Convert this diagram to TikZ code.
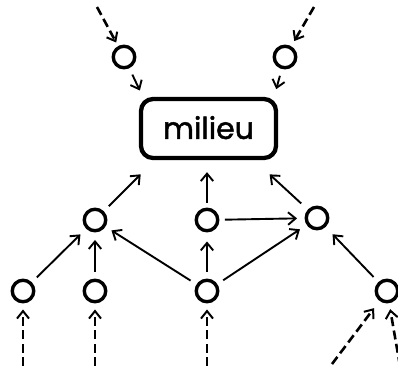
\documentclass[tikz,border=0pt]{standalone}
\usepackage{fontspec}
\setmainfont{Poppins}
\newfontfamily\milfont{Poppins}[FakeBold=1.6]
\usetikzlibrary{arrows.meta,calc}
\begin{document}
\begin{tikzpicture}[x=1pt,y=-1pt,
  dot/.style={circle,draw,line width=3.4pt,minimum size=21.5pt,inner sep=0pt},
  milbox/.style={draw,line width=4.3pt,rounded corners=12pt,minimum width=135pt,minimum height=59pt,inner sep=0pt,font=\milfont\fontsize{30}{32}\selectfont},
  arr/.style={line width=1.9pt,-{Straight Barb[length=7.5pt,width=12.5pt,line width=1.9pt]},shorten <=7pt,shorten >=8pt},
  darr/.style={line width=2.6pt,dash pattern=on 9pt off 4.5pt,-{Straight Barb[length=7.5pt,width=12pt,line width=2pt]}}]
\useasboundingbox (0,0) rectangle (398,365);
% nodes
\node[dot] (tl) at (124,57) {};
\node[dot] (tr) at (285,57) {};
\node[milbox] (box) at (208.5,128.5) {\raisebox{2pt}{milieu}};
\node[dot] (ml) at (95,220) {};
\node[dot] (mm) at (207,220) {};
\node[dot] (mr) at (317,218) {};
\node[dot] (b1) at (23,291) {};
\node[dot] (b2) at (95,291) {};
\node[dot] (b3) at (207,291) {};
\node[dot] (b4) at (387,291) {};
% free ends of dashed arrows
\coordinate (s1) at (97,7);
\coordinate (s2) at (314,7);
\coordinate (s3) at (23,366);
\coordinate (s4) at (95,366);
\coordinate (s5) at (207,366);
\coordinate (s6) at (332,364);
\coordinate (s7) at (400,366);
% dashed incoming arrows
\draw[darr,shorten >=4pt] (s1) -- (tl);
\draw[darr,shorten >=6pt] (s2) -- (tr);
\draw[darr,shorten >=6pt] (s3) -- (b1);
\draw[darr,shorten >=6pt] (s4) -- (b2);
\draw[darr,shorten >=6pt] (s5) -- (b3);
\draw[darr,shorten >=9pt] (s6) -- (b4);
\draw[darr,shorten >=6pt] (s7) -- (b4.-80);
% arrows into the box
\draw[arr,shorten >=7pt] (tl) -- ($(box.north west)+(4,0)$);
\draw[arr,shorten >=8pt] (tr) -- ($(box.north east)+(-4,0)$);
\draw[arr,shorten >=20pt] (ml) -- ($(box.south west)+(16,0)$);
\draw[arr,shorten >=12pt,shorten <=4.5pt] (mm) -- (mm |- box.south);
\draw[arr,shorten >=21pt,shorten <=9pt] (mr) -- ($(box.south east)+(-24,0)$);
% middle and bottom arrows
\draw[arr,shorten <=5.5pt,shorten >=7.5pt] (mm) -- (mr);
\draw[arr] (b1) -- (ml);
\draw[arr,shorten <=6.5pt,shorten >=7.5pt] (b2) -- (ml);
\draw[arr,shorten >=7pt] (b3) -- (ml);
\draw[arr,shorten <=6.5pt,shorten >=9pt] (b3) -- (mm);
\draw[arr] (b3) -- (mr);
\draw[arr,shorten >=10pt] (b4) -- (mr);
\end{tikzpicture}
\end{document}
